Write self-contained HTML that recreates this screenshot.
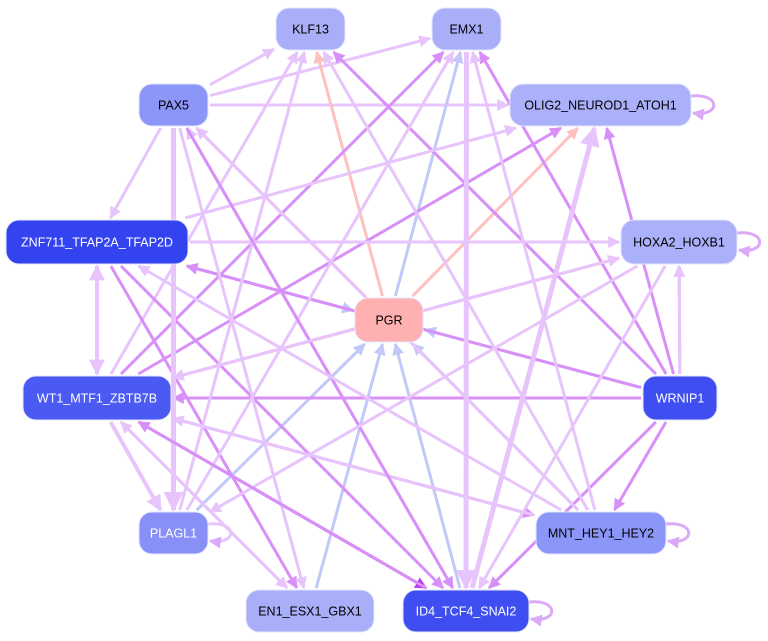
<!DOCTYPE html>
<html><head><meta charset="utf-8"><style>
html,body{margin:0;padding:0;background:#fff;}
svg{display:block;font-family:"Liberation Sans",sans-serif;}
</style></head><body>
<svg id="s" width="768" height="641" viewBox="0 0 768 641" xmlns="http://www.w3.org/2000/svg">
<defs></defs>
<g id="e"></g><g id="n"></g>
</svg>
<script>
var N={
KLF13:[276,8,69,42,'#a9aef9','#000'],
EMX1:[432,8,69,42,'#a9aef9','#000'],
PAX5:[139,84,69,42,'#8c95f8','#000'],
OLIG2_NEUROD1_ATOH1:[510,84,181,42,'#aab0f9','#000'],
ZNF711_TFAP2A_TFAP2D:[6,220,182,44,'#3343f0','#fff'],
HOXA2_HOXB1:[621,220,116,44,'#aab0f9','#000'],
PGR:[355,298,68,44,'#ffb0b0','#000'],
WT1_MTF1_ZBTB7B:[23,376,148,44,'#4a5af2','#fff'],
WRNIP1:[643,376,74,44,'#3e4ef1','#fff'],
PLAGL1:[139,512,69,42,'#8890f8','#fff'],
MNT_HEY1_HEY2:[536,512,130,42,'#8c96f9','#000'],
EN1_ESX1_GBX1:[246,590,128,42,'#a9aef9','#000'],
ID4_TCF4_SNAI2:[403,590,126,42,'#3e4ef1','#fff']};
var L='#e8c4fc',M='#d890f8',S='#b83cf0',B='#c2c8f8',P='#ffc0c0';
var E=[
['PAX5','KLF13',L,3],['PAX5','EMX1',L,3],['PAX5','OLIG2_NEUROD1_ATOH1',L,3],['PAX5','ZNF711_TFAP2A_TFAP2D',L,3],
['ZNF711_TFAP2A_TFAP2D','WT1_MTF1_ZBTB7B',L,4],['WT1_MTF1_ZBTB7B','ZNF711_TFAP2A_TFAP2D',L,4],
['PGR','KLF13',P,3],['PGR','OLIG2_NEUROD1_ATOH1',P,3],['PGR','HOXA2_HOXB1',P,3],['PGR','WT1_MTF1_ZBTB7B',P,3],['PGR','PAX5',P,3],['PGR','EMX1',P,2],
['ZNF711_TFAP2A_TFAP2D','PGR',B,3],['WRNIP1','PGR',B,3],['MNT_HEY1_HEY2','PGR',B,3],['EN1_ESX1_GBX1','PGR',B,3],['ID4_TCF4_SNAI2','PGR',B,3],['PLAGL1','PGR',B,3],['PGR','EMX1',B,3],
['WT1_MTF1_ZBTB7B','EMX1',M,3],['WT1_MTF1_ZBTB7B','KLF13',L,3],['WT1_MTF1_ZBTB7B','OLIG2_NEUROD1_ATOH1',M,3],['WT1_MTF1_ZBTB7B','HOXA2_HOXB1',L,3],
['WT1_MTF1_ZBTB7B','ID4_TCF4_SNAI2',S,3],['WT1_MTF1_ZBTB7B','MNT_HEY1_HEY2',M,3],['WT1_MTF1_ZBTB7B','PLAGL1',L,4],['WT1_MTF1_ZBTB7B','EN1_ESX1_GBX1',L,3],
['WRNIP1','WT1_MTF1_ZBTB7B',M,3],['WRNIP1','ZNF711_TFAP2A_TFAP2D',M,3],['WRNIP1','EMX1',M,3],['WRNIP1','OLIG2_NEUROD1_ATOH1',M,3],['WRNIP1','MNT_HEY1_HEY2',M,3],['WRNIP1','ID4_TCF4_SNAI2',M,3],['WRNIP1','HOXA2_HOXB1',L,3],['WRNIP1','KLF13',M,3],
['ZNF711_TFAP2A_TFAP2D','HOXA2_HOXB1',L,3],['ZNF711_TFAP2A_TFAP2D','EN1_ESX1_GBX1',M,3],['ZNF711_TFAP2A_TFAP2D','ID4_TCF4_SNAI2',M,3],['ZNF711_TFAP2A_TFAP2D','OLIG2_NEUROD1_ATOH1',L,3],
['EMX1','ID4_TCF4_SNAI2',L,5],['ID4_TCF4_SNAI2','OLIG2_NEUROD1_ATOH1',L,5],['ID4_TCF4_SNAI2','PAX5',L,3],
['MNT_HEY1_HEY2','KLF13',L,3],['MNT_HEY1_HEY2','PAX5',L,3],['MNT_HEY1_HEY2','WT1_MTF1_ZBTB7B',L,3],['MNT_HEY1_HEY2','EMX1',L,3],
['PLAGL1','KLF13',L,3],['PLAGL1','EMX1',L,3],['PAX5','PLAGL1',L,5],['PAX5','EN1_ESX1_GBX1',L,3],['PAX5','ID4_TCF4_SNAI2',M,3],
['HOXA2_HOXB1','PLAGL1',L,3],['HOXA2_HOXB1','ID4_TCF4_SNAI2',L,3],['WRNIP1','HOXA2_HOXB1',L,3],['HOXA2_HOXB1','WT1_MTF1_ZBTB7B',L,3],
['EN1_ESX1_GBX1','WT1_MTF1_ZBTB7B',L,3],['ID4_TCF4_SNAI2','WT1_MTF1_ZBTB7B',M,3],['MNT_HEY1_HEY2','ZNF711_TFAP2A_TFAP2D',L,3]
];
var ns='http://www.w3.org/2000/svg',eg=document.getElementById('e'),ng=document.getElementById('n'),defs=document.querySelector('defs');
var mk={};
function marker(c){if(mk[c])return mk[c];var id='m'+Object.keys(mk).length;var m=document.createElementNS(ns,'marker');
m.setAttribute('id',id);m.setAttribute('viewBox','0 0 10 10');m.setAttribute('refX','9');m.setAttribute('refY','5');
m.setAttribute('markerWidth','4');m.setAttribute('markerHeight','4');m.setAttribute('orient','auto');
var p=document.createElementNS(ns,'path');p.setAttribute('d','M0,0L10,5L0,10z');p.setAttribute('fill',c);m.appendChild(p);defs.appendChild(m);mk[c]=id;return id;}
function ctr(k){var n=N[k];return [n[0]+n[2]/2,n[1]+n[3]/2];}
function clip(k,dx,dy){var n=N[k];var hw=n[2]/2+2,hh=n[3]/2+2;var t=Math.min(hw/Math.abs(dx||1e-9),hh/Math.abs(dy||1e-9));return t;}
E.forEach(function(e){var a=ctr(e[0]),b=ctr(e[1]);var dx=b[0]-a[0],dy=b[1]-a[1];
var t1=clip(e[0],dx,dy),t2=clip(e[1],-dx,-dy);
var l=document.createElementNS(ns,'line');
l.setAttribute('x1',a[0]+dx*t1);l.setAttribute('y1',a[1]+dy*t1);l.setAttribute('x2',b[0]-dx*t2);l.setAttribute('y2',b[1]-dy*t2);
l.setAttribute('stroke',e[2]);l.setAttribute('stroke-width',e[3]);l.setAttribute('marker-end','url(#'+marker(e[2])+')');eg.appendChild(l);});
['OLIG2_NEUROD1_ATOH1','HOXA2_HOXB1','PLAGL1','MNT_HEY1_HEY2','ID4_TCF4_SNAI2'].forEach(function(k){var n=N[k];var x=n[0]+n[2],y=n[1]+n[3]/2;
var p=document.createElementNS(ns,'path');p.setAttribute('d','M'+x+','+(y-9)+' C'+(x+30)+','+(y-12)+' '+(x+30)+','+(y+12)+' '+(x+2)+','+(y+8));
p.setAttribute('fill','none');p.setAttribute('stroke',k=='PLAGL1'?L:'#dca8f8');p.setAttribute('stroke-width',3);p.setAttribute('marker-end','url(#'+marker('#dca8f8')+')');eg.appendChild(p);});
for(var k in N){var n=N[k];var r=document.createElementNS(ns,'rect');r.setAttribute('x',n[0]);r.setAttribute('y',n[1]);r.setAttribute('width',n[2]);r.setAttribute('height',n[3]);
r.setAttribute('rx',13);r.setAttribute('fill',n[4]);r.setAttribute('stroke','#e4e6fc');r.setAttribute('stroke-width',1);ng.appendChild(r);
var t=document.createElementNS(ns,'text');t.setAttribute('x',n[0]+n[2]/2);t.setAttribute('y',n[1]+n[3]/2+4.5);t.setAttribute('text-anchor','middle');
t.setAttribute('font-size','12.5');t.setAttribute('fill',n[5]);t.textContent=k;ng.appendChild(t);}
</script>
</body></html>
